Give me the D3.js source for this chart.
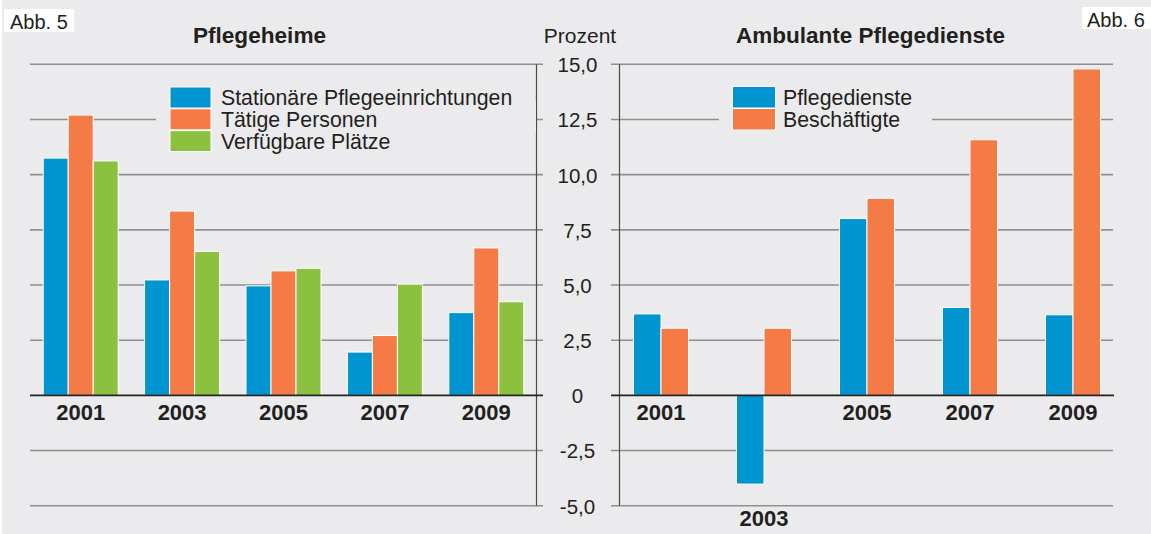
<!DOCTYPE html>
<html><head><meta charset="utf-8">
<script src="https://cdn.jsdelivr.net/npm/d3@7"></script>
<style>
html,body{margin:0;padding:0;background:#ffffff;}
svg{display:block;font-family:"Liberation Sans",Arial,Helvetica,sans-serif;}
</style></head>
<body><svg id="c" width="1151" height="534"></svg>
<script>
// ---- data ----
const years = ["2001","2003","2005","2007","2009"];
const leftSeries = ["Stationäre Pflegeeinrichtungen","Tätige Personen","Verfügbare Plätze"];
const leftStationaer = [10.75, 5.23, 4.96, 1.96, 3.75];
const leftPersonen   = [12.7, 8.35, 5.64, 2.71, 6.68];
const leftPlaetze    = [10.62, 6.52, 5.76, 5.04, 4.24];
const rightSeries = ["Pflegedienste","Beschäftigte"];
const rightDienste     = [3.69, -4.02, 8.01, 3.98, 3.65];
const rightBeschaeftig = [3.04, 3.04, 8.93, 11.58, 14.79];
const tickValues = [-5, -2.5, 0, 2.5, 5, 7.5, 10, 12.5, 15];
const colors = ["#0094d0", "#f47b45", "#8cc03f"];

const svg = d3.select("#c");
const txt = "#231f20";
svg.append("rect").attr("x",2).attr("y",0).attr("width",1149).attr("height",534).attr("fill","#ebebed");

const y = d3.scaleLinear().domain([-5,15]).range([505.7,64.3]);

// x scales
const xL = d3.scaleBand().domain(years).range([30,537]).padding(0);
const xR = d3.scaleBand().domain(years).range([609.5,1124.5]).padding(0);
const xLi = d3.scaleBand().domain(leftSeries).range([-37.5,37.5]).padding(0);
const xRi = d3.scaleBand().domain(rightSeries).range([-27.5,27.5]).padding(0);

// gridlines
const grid = svg.append("g");
tickValues.filter(t=>t!==0).forEach(t=>{
  grid.append("line").attr("x1",30).attr("x2",543).attr("y1",y(t)).attr("y2",y(t))
    .attr("stroke","#8f8f91").attr("stroke-width",1.6);
  grid.append("line").attr("x1",611).attr("x2",1113).attr("y1",y(t)).attr("y2",y(t))
    .attr("stroke","#8f8f91").attr("stroke-width",1.6);
});
// vertical axis lines
grid.append("line").attr("x1",536.5).attr("x2",536.5).attr("y1",y(15)).attr("y2",y(-5)).attr("stroke","#4a4a4a").attr("stroke-width",1.2);
grid.append("line").attr("x1",619.5).attr("x2",619.5).attr("y1",y(15)).attr("y2",y(-5)).attr("stroke","#4a4a4a").attr("stroke-width",1.2);

// legend background cut-outs
svg.append("rect").attr("x",156).attr("y",101).attr("width",380).attr("height",33).attr("fill","#ebebed");
svg.append("rect").attr("x",719).attr("y",101).attr("width",213).attr("height",33).attr("fill","#ebebed");

// y-axis labels via d3 axis
const fmt = d3.formatLocale({decimal:",", thousands:".", grouping:[3], currency:["",""], minus:"-"}).format(".1f");
const yAxis = d3.axisRight(y).tickValues(tickValues).tickSize(0).tickPadding(0)
  .tickFormat(d => d===0 ? "0" : fmt(d));
const ya = svg.append("g").attr("transform","translate(577.5,0)").call(yAxis);
ya.select(".domain").remove();
ya.selectAll("text").attr("text-anchor","middle").attr("font-size",20.5).attr("fill",txt)
  .attr("font-family","'Liberation Sans',Arial,sans-serif").attr("dy","0.36em");

// left bars
const leftData = [leftStationaer, leftPersonen, leftPlaetze];
years.forEach((yr,i)=>{
  const g = svg.append("g").attr("transform",`translate(${xL(yr)+xL.bandwidth()/2},0)`);
  leftSeries.forEach((s,k)=>{
    const v = leftData[k][i];
    g.append("rect").attr("x",xLi(s)).attr("width",xLi.bandwidth())
      .attr("y",y(Math.max(0,v))).attr("height",Math.abs(y(v)-y(0)))
      .attr("fill",colors[k]).attr("stroke","#ffffff").attr("stroke-width",1);
  });
});
// right bars
const rightData = [rightDienste, rightBeschaeftig];
years.forEach((yr,i)=>{
  const g = svg.append("g").attr("transform",`translate(${xR(yr)+xR.bandwidth()/2},0)`);
  rightSeries.forEach((s,k)=>{
    const v = rightData[k][i];
    g.append("rect").attr("x",xRi(s)).attr("width",xRi.bandwidth())
      .attr("y",y(Math.max(0,v))).attr("height",Math.abs(y(v)-y(0)))
      .attr("fill",colors[k]).attr("stroke","#ffffff").attr("stroke-width",1);
  });
});

// zero lines
svg.append("line").attr("x1",30).attr("x2",543).attr("y1",y(0)).attr("y2",y(0)).attr("stroke","#222").attr("stroke-width",1.6);
svg.append("line").attr("x1",611).attr("x2",1114).attr("y1",y(0)).attr("y2",y(0)).attr("stroke","#222").attr("stroke-width",1.6);

// category labels
const xaL = d3.axisBottom(xL).tickSize(0).tickPadding(0);
const gL = svg.append("g").attr("transform",`translate(0,${y(0)})`).call(xaL);
gL.select(".domain").remove();
gL.selectAll("text").attr("font-size",22).attr("font-weight","bold").attr("fill",txt)
  .attr("font-family","'Liberation Sans',Arial,sans-serif").attr("dy","0").attr("y",25);

const xaR = d3.axisBottom(xR).tickSize(0).tickPadding(0);
const gR = svg.append("g").attr("transform",`translate(0,${y(0)})`).call(xaR);
gR.select(".domain").remove();
gR.selectAll("text").attr("font-size",22).attr("font-weight","bold").attr("fill",txt)
  .attr("font-family","'Liberation Sans',Arial,sans-serif").attr("dy","0")
  .attr("y",(d,i)=> rightDienste[i] < 0 ? (y(-5)-y(0))+20.5 : 25);

// titles
svg.append("text").attr("x",259.5).attr("y",43).attr("text-anchor","middle").attr("font-size",22.6).attr("font-weight","bold").attr("fill",txt).text("Pflegeheime");
svg.append("text").attr("x",870.5).attr("y",43).attr("text-anchor","middle").attr("font-size",22.5).attr("font-weight","bold").attr("fill",txt).text("Ambulante Pflegedienste");
svg.append("text").attr("x",580).attr("y",42.5).attr("text-anchor","middle").attr("font-size",21).attr("fill",txt).text("Prozent");

// Abb boxes
svg.append("rect").attr("x",4).attr("y",9).attr("width",70).attr("height",23).attr("fill","#fff");
svg.append("text").attr("x",10).attr("y",29).attr("font-size",20).attr("fill",txt).text("Abb. 5");
svg.append("rect").attr("x",1082).attr("y",7).attr("width",69).attr("height",22).attr("fill","#fff");
svg.append("text").attr("x",1087).attr("y",27).attr("font-size",20).attr("fill",txt).text("Abb. 6");

// legends
const legL = svg.append("g");
leftSeries.forEach((s,k)=>{
  legL.append("rect").attr("x",170).attr("y",87+k*21.8).attr("width",41).attr("height",21)
    .attr("fill",colors[k]).attr("stroke","#fff").attr("stroke-width",1);
  legL.append("text").attr("x",221).attr("y",104.5+k*22).attr("font-size",21.3).attr("fill",txt).text(s);
});
const legR = svg.append("g");
rightSeries.forEach((s,k)=>{
  legR.append("rect").attr("x",732.5).attr("y",86.5+k*22).attr("width",43).attr("height",21.5)
    .attr("fill",colors[k]).attr("stroke","#fff").attr("stroke-width",1);
  legR.append("text").attr("x",783).attr("y",105+k*22).attr("font-size",21.3).attr("fill",txt).text(s);
});
</script></body></html>
